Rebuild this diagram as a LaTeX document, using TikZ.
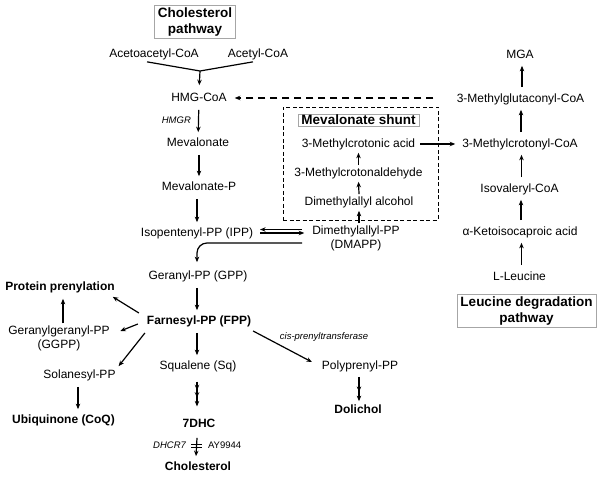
\documentclass[tikz,border=0pt]{standalone}
\usepackage{fontspec}
\setmainfont{Liberation Sans}
\usetikzlibrary{arrows.meta,decorations.markings}
\begin{document}
\begin{tikzpicture}[
    x=1pt,
    y=-1pt,
    >={Stealth[length=5.5pt,width=4.5pt]},
    line width=1.2pt,
    font=\fontsize{12}{14}\selectfont,
    met/.style={text height=9pt, text depth=2.5pt, inner sep=1.5pt},
    two/.style={align=center, inner sep=1.5pt},
    bold/.style={met, font=\fontsize{12}{14}\selectfont\bfseries},
    enz/.style={inner sep=1pt, font=\fontsize{9.5}{11}\selectfont\itshape},
    drug/.style={inner sep=1pt, font=\fontsize{9.5}{11}\selectfont},
    title/.style={draw=gray!70, line width=0.9pt, align=center, inner xsep=3.5pt, inner ysep=2pt,
        font=\fontsize{13.5}{16.5}\selectfont\bfseries},
    conv/.style={->, shorten <=4pt, shorten >=3pt},
    tip2/.style={postaction={decorate}, decoration={markings,
        mark=at position 0.62 with {\arrow{Stealth[length=5.5pt,width=4.5pt]}}}},
    tip3/.style={postaction={decorate}, decoration={markings,
        mark=at position 0.35 with {\arrow{Stealth[length=5.5pt,width=4.5pt]}},
        mark=at position 0.65 with {\arrow{Stealth[length=5.5pt,width=4.5pt]}}}}
]
\useasboundingbox (0,0) rectangle (602,478);

\node[title] (cholpath) at (195,22) {Cholesterol\\pathway};
\node[met] (acac) at (154,54) {Acetoacetyl-CoA};
\node[met] (acet) at (258,54) {Acetyl-CoA};
\coordinate (join) at (200,71);
\node[met] (hmg) at (199,98) {HMG-CoA};
\node[met] (mev) at (198,143) {Mevalonate};
\node[met] (mevp) at (199,187) {Mevalonate-P};
\node[met] (ipp) at (197,233) {Isopentenyl-PP (IPP)};
\node[two] (dmapp) at (356,238) {Dimethylallyl-PP\\(DMAPP)};
\node[met] (gpp) at (198,276) {Geranyl-PP (GPP)};
\node[bold] (fpp) at (199,321) {Farnesyl-PP (FPP)};
\node[met] (sq) at (198,366) {Squalene (Sq)};
\node[bold] (dhc) at (199,424) {7DHC};
\node[bold] (chol) at (198,467) {Cholesterol};

\node[bold] (prot) at (60,287) {Protein prenylation};
\node[two] (ggpp) at (59,338) {Geranylgeranyl-PP\\(GGPP)};
\node[met] (sol) at (79.5,375) {Solanesyl-PP};
\node[bold] (coq) at (63.5,420) {Ubiquinone (CoQ)};
\node[met] (poly) at (360,366) {Polyprenyl-PP};
\node[bold] (dol) at (358,410) {Dolichol};
\node[enz] (cispt) at (324,337) {cis-prenyltransferase};

\node[draw, dashed, dash pattern=on 4pt off 2.5pt, line width=0.9pt, minimum width=155pt,
    minimum height=113pt, inner sep=0pt] (shunt) at (360.5,163.5) {};
\node[title, inner ysep=1pt] (shunttitle) at (358.5,120) {Mevalonate shunt};
\node[met] (mca) at (358.5,144) {3-Methylcrotonic acid};
\node[met] (mcald) at (358.5,173) {3-Methylcrotonaldehyde};
\node[met] (dmaa) at (359,202) {Dimethylallyl alcohol};

\node[met] (mga) at (520,55) {MGA};
\node[met] (mgc) at (520.5,99) {3-Methylglutaconyl-CoA};
\node[met] (mcc) at (520,144) {3-Methylcrotonyl-CoA};
\node[met] (iva) at (519.5,189) {Isovaleryl-CoA};
\node[met] (kic) at (520,232) {α-Ketoisocaproic acid};
\node[met] (leu) at (519.5,277) {L-Leucine};
\node[title] (leupath) at (526.5,311) {Leucine degradation\\pathway};

\draw ([xshift=-7pt]acac.south) -- (join) -- ([xshift=-5pt]acet.south);
\draw[->, shorten >=5pt] (join) -- (hmg.north);
\draw[conv] (hmg) -- node[enz, left=6pt] {HMGR} (mev);
\draw[conv] (mevp.north |- mev.south) -- (mevp.north);
\draw[conv] ([xshift=-2pt]mevp.south) -- ([xshift=-2pt]mevp.south |- ipp.north);

\coordinate (dm) at (ipp.east -| dmapp.west);
\draw[<-] ([xshift=5pt,yshift=3.5pt]ipp.east) -- ([xshift=-8pt,yshift=3.5pt]dm);
\draw[->] ([xshift=5pt]ipp.east) -- ([xshift=-6pt]dm);
\draw[->, rounded corners=10pt, shorten >=6pt] ([xshift=-8pt,yshift=-10pt]dm) -| ([xshift=-1pt]gpp.north);
\draw[->, shorten >=1pt] (dmaa.south |- dmapp.north) -- (dmaa.south);

\draw[conv] ([xshift=-1pt]gpp.south) -- ([xshift=-1pt]gpp.south |- fpp.north);
\draw[conv] ([xshift=-2pt]fpp.south) -- ([xshift=-2pt]fpp.south |- sq.north);
\draw[->, tip3] ([xshift=-1pt,yshift=-7.75pt]sq.south) -- ([xshift=-2pt,yshift=9.75pt]dhc.north);
\path ([xshift=-2pt]dhc.south) -- ([xshift=-2pt]chol.north) coordinate[pos=0.5] (inh);
\draw[->] ([xshift=-2pt,yshift=-6pt]dhc.south) -- ([xshift=-2pt,yshift=3pt]chol.north);
\draw[line width=0.9pt] ([xshift=-5.5pt,yshift=1.5pt]inh) -- ++(11,0);
\draw[line width=0.9pt] ([xshift=-5.5pt,yshift=-2pt]inh) -- ++(11,0);
\node[enz, anchor=east] (dhcr) at ([xshift=-9pt]inh) {DHCR7};
\node[drug, anchor=west] (ay) at ([xshift=10pt]inh) {AY9944};

\draw[->] ([xshift=-6pt,yshift=8pt]fpp.west) -- ([xshift=-4pt,yshift=-2pt]prot.south east);
\draw[->] ([xshift=-7pt,yshift=-3pt]fpp.west) -- ([xshift=8.5pt,yshift=7pt]ggpp.east);
\draw[->, shorten >=4pt] ([xshift=4pt]ggpp.north) -- ([xshift=3pt]prot.south);
\draw[->] ([yshift=-12pt]fpp.west) -- ([xshift=1pt,yshift=1pt]sol.north east);
\draw[conv] ([xshift=-1.5pt]sol.south) -- ([xshift=-1.5pt]sol.south |- coq.north);
\draw[->] ([yshift=-10pt]fpp.east) -- ([xshift=-8pt,yshift=4pt]poly.west);
\draw[->, tip2] ([xshift=-1pt,yshift=-3pt]poly.south) -- ([xshift=1pt,yshift=1pt]dol.north);

\draw[->, dashed, dash pattern=on 7pt off 5pt, shorten >=6pt] ([xshift=-5pt]shunt.north east |- hmg.east) -- (hmg.east);
\draw[->, shorten >=1pt] (mcald.north) -- (mca.south);
\draw[->, shorten >=1pt] (dmaa.north) -- (mcald.south);
\draw[->, shorten <=3pt, shorten >=5pt] (mca.east) -- (mcc.west);

\draw[conv] ([xshift=2pt]leu.north) -- ([xshift=2pt]leu.north |- kic.south);
\draw[conv] ([xshift=1pt]kic.north) -- ([xshift=1pt]kic.north |- iva.south);
\draw[conv] ([xshift=2pt]iva.north) -- ([xshift=2pt]iva.north |- mcc.south);
\draw[conv] ([xshift=1pt]mcc.north) -- ([xshift=1pt]mcc.north |- mgc.south);
\draw[conv] ([xshift=1.5pt]mgc.north) -- ([xshift=1.5pt]mgc.north |- mga.south);
\end{tikzpicture}
\end{document}
